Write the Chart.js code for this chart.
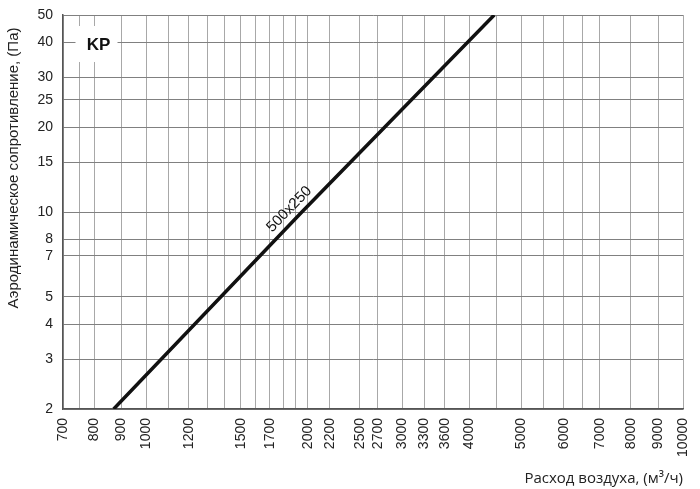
<!DOCTYPE html>
<html>
<head>
<meta charset="utf-8">
<script src="https://cdn.jsdelivr.net/npm/chart.js@4.4.1/dist/chart.umd.min.js"></script>
<style>
  html, body { margin: 0; padding: 0; background: #fff; }
  canvas { display: block; }
</style>
</head>
<body>
<canvas id="c" width="700" height="489"></canvas>
<script>
// ---- data ----
const airflow  = [870, 1950, 4450];   // м³/ч
const pressure = [2, 10, 50];         // Па
const seriesName = '500x250';
const chartTag = 'KP';

const xGridValues = [700, 750, 800, 900, 1000, 1100, 1200, 1300, 1400, 1500, 1600, 1700, 1800, 1900,
  2000, 2200, 2500, 2700, 3000, 3300, 3600, 4000, 4500, 5000, 5500, 6000, 6500, 7000, 8000, 9000, 10000];
const xTickLabels = [700, 800, 900, 1000, 1200, 1500, 1700, 2000, 2200, 2500, 2700, 3000, 3300, 3600,
  4000, 5000, 6000, 7000, 8000, 9000, 10000];
const yTickValues = [2, 3, 4, 5, 7, 8, 10, 15, 20, 25, 30, 40, 50];

const xTitle = 'Расход воздуха, (м³/ч)';
const yTitle = 'Аэродинамическое сопротивление, (Па)';

const points = airflow.map((q, i) => ({x: q, y: pressure[i]}));

const overlayPlugin = {
  id: 'overlay',
  beforeDatasetsDraw(chart) {
    const {ctx, chartArea} = chart;
    ctx.save();
    ctx.fillStyle = '#fff';
    ctx.fillRect(chartArea.left + 12.5, chartArea.top + 11, 42, 36);
    ctx.restore();
  },
  afterDatasetsDraw(chart) {
    const {ctx, chartArea, scales} = chart;
    ctx.save();
    ctx.fillStyle = '#111';
    ctx.font = 'bold 17px "Liberation Sans", Arial, sans-serif';
    ctx.textAlign = 'center';
    ctx.textBaseline = 'middle';
    ctx.fillText(chartTag, chartArea.left + 35.5, chartArea.top + 30);
    // series label along the line
    const x0 = scales.x.getPixelForValue(airflow[0]);
    const y0 = scales.y.getPixelForValue(pressure[0]);
    const x1 = scales.x.getPixelForValue(airflow[airflow.length - 1]);
    const y1 = scales.y.getPixelForValue(pressure[pressure.length - 1]);
    const ang = Math.atan2(y1 - y0, x1 - x0);
    const t = 0.485;
    const px = x0 + (x1 - x0) * t, py = y0 + (y1 - y0) * t;
    ctx.translate(px, py);
    ctx.rotate(ang);
    ctx.font = '15px "Liberation Sans", Arial, sans-serif';
    ctx.fillStyle = '#111';
    ctx.textAlign = 'center';
    ctx.textBaseline = 'bottom';
    ctx.fillText(seriesName, 0, -5);
    ctx.restore();
    // y title
    ctx.save();
    ctx.translate(14, 168);
    ctx.rotate(-Math.PI / 2);
    ctx.font = '15px "Liberation Sans", Arial, sans-serif';
    ctx.fillStyle = '#222';
    ctx.textAlign = 'center';
    ctx.textBaseline = 'middle';
    ctx.fillText(yTitle, 0, 0);
    ctx.restore();
  }
};

new Chart(document.getElementById('c'), {
  type: 'line',
  data: {
    datasets: [{
      label: seriesName,
      data: points,
      borderColor: '#111',
      borderWidth: 3.5,
      pointRadius: 0,
      tension: 0,
      fill: false
    }]
  },
  options: {
    responsive: false,
    animation: false,
    devicePixelRatio: 1,
    layout: { padding: { left: 0, top: 15, right: 17, bottom: 0 } },
    plugins: { legend: { display: false }, tooltip: { enabled: false } },
    scales: {
      x: {
        type: 'logarithmic',
        min: 700, max: 10000,
        afterBuildTicks(scale) { scale.ticks = xGridValues.map(v => ({value: v})); },
        afterFit(scale) { scale.height = 80; scale.paddingLeft = 0; scale.paddingRight = 0; },
        ticks: {
          autoSkip: false,
          minRotation: 90, maxRotation: 90,
          padding: 9,
          color: '#222',
          font: { family: '"Liberation Sans", Arial, sans-serif', size: 14 },
          callback: (v) => xTickLabels.includes(v) ? String(v) : ''
        },
        grid: { color: '#a8a8a8', lineWidth: 1, drawTicks: false },
        border: { color: '#555', width: 1.5 },
        title: {
          display: true, text: xTitle, align: 'end',
          color: '#222',
          font: { family: '"Open Sans", sans-serif', size: 15 },
          padding: { top: 0, bottom: 1 }
        }
      },
      y: {
        type: 'logarithmic',
        min: 2, max: 50,
        afterBuildTicks(scale) { scale.ticks = yTickValues.map(v => ({value: v})); },
        afterFit(scale) { scale.width = 63; scale.paddingTop = 0; scale.paddingBottom = 0; },
        ticks: {
          autoSkip: false,
          padding: 10,
          color: '#222',
          font: { family: '"Liberation Sans", Arial, sans-serif', size: 14 },
          callback: (v) => yTickValues.includes(v) ? String(v) : ''
        },
        grid: { color: '#808080', lineWidth: 1, drawTicks: false },
        border: { color: '#555', width: 1.5 }
      }
    }
  },
  plugins: [overlayPlugin]
});
</script>
</body>
</html>
